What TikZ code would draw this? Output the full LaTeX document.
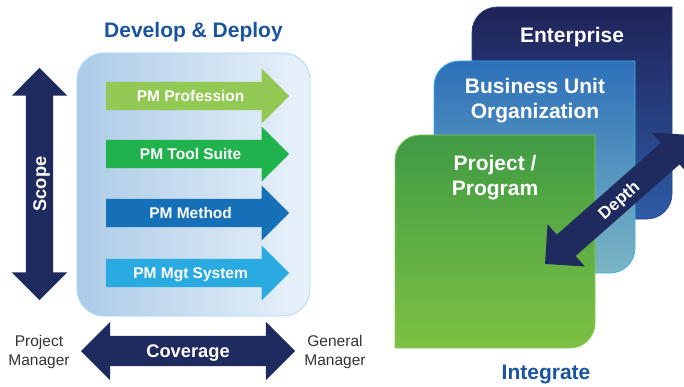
\documentclass[tikz,border=0pt]{standalone}
\usepackage{fontspec}
\setmainfont{Liberation Sans}
\usepackage{xcolor}
\usetikzlibrary{positioning, shapes.arrows}

\definecolor{navy}{RGB}{31,42,94}
\definecolor{headblue}{RGB}{27,84,158}
\definecolor{profgreen}{RGB}{146,200,84}
\definecolor{toolgreen}{RGB}{32,178,76}
\definecolor{methblue}{RGB}{21,112,184}
\definecolor{mgtblue}{RGB}{41,171,226}

\begin{document}
\begin{tikzpicture}[
  x=1pt, y=1pt,
  node distance=4pt,
  every node/.style={align=center, text=white, font=\bfseries},
  pmarrow/.style ={single arrow, draw=none, anchor=tail, minimum height=183, inner ysep=0, inner xsep=4,
                   single arrow head extend=13.5, text height=19.5, text depth=8.5,
                   font=\fontsize{15.5}{18}\selectfont\bfseries},
  bigarrow/.style={double arrow, draw=none, fill=navy, inner ysep=0, inner xsep=4, double arrow head extend=14,
                   font=\fontsize{18.3}{22}\selectfont\bfseries},
  heading/.style ={text=headblue, font=\fontsize{21}{25}\selectfont\bfseries},
  lvltext/.style ={font=\fontsize{21}{25}\selectfont\bfseries},
  mgr/.style     ={text=black!80, font=\fontsize{15.5}{18.5}\selectfont},
  panel/.style   ={rectangle, rounded corners=27, draw=blue!45!cyan!35, line width=0.8,
                   left color={rgb,255:red,172;green,203;blue,231}, right color={rgb,255:red,233;green,242;blue,250},
                   minimum width=233, minimum height=263},
  entbox/.style  ={top color={rgb,255:red,32;green,34;blue,88}, bottom color={rgb,255:red,45;green,92;blue,165},
                   draw={rgb,255:red,40;green,70;blue,140}, line width=0.6},
  bubox/.style   ={top color={rgb,255:red,45;green,112;blue,185}, bottom color={rgb,255:red,122;green,182;blue,196},
                   draw={rgb,255:red,55;green,180;blue,230}, line width=0.8},
  prjbox/.style  ={top color={rgb,255:red,64;green,155;blue,68}, bottom color={rgb,255:red,125;green,193;blue,67},
                   draw={rgb,255:red,140;green,200;blue,90}, line width=0.8}
]
\clip (0,0) rectangle (684,386);

% left: develop & deploy
\node[panel] (panel) at (193.5,201.5) {};
\node[heading] (dd) at (193.5,354) {Develop \& Deploy};

\node[pmarrow, fill=profgreen] (prof) at (106,290) {PM Profession};
\node[pmarrow, fill=toolgreen] (tool) at (106,232) {PM Tool Suite};
\node[pmarrow, fill=methblue]  (meth) at (106,173) {PM Method};
\node[pmarrow, fill=mgtblue]   (mgt)  at (106,113) {PM Mgt System};

\node[bigarrow, rotate=90, minimum height=232, text height=20, text depth=7] (scope) at (39.5,202) {Scope};
\node[bigarrow, minimum height=214, text height=21.5, text depth=8.5] (cov) at (188,35) {Coverage};

\node[mgr] (pm) at (39,34)  {Project\\Manager};
\node[mgr] (gm) at (335,34) {General\\Manager};

% right: integrate
\draw[entbox] (472,167) -- (472,354) arc[start angle=180, end angle=90, radius=25] -- (672,379)
  -- (672,192) arc[start angle=0, end angle=-90, radius=25] -- cycle;
\draw[bubox]  (434,113) -- (434,300) arc[start angle=180, end angle=90, radius=25] -- (635,325)
  -- (635,138) arc[start angle=0, end angle=-90, radius=25] -- cycle;
\draw[prjbox] (395,38)  -- (395,226) arc[start angle=180, end angle=90, radius=25] -- (595,251)
  -- (595,63)  arc[start angle=0, end angle=-90, radius=25] -- cycle;

\node[lvltext] (ent) at (572,349)   {Enterprise};
\node[lvltext] (bu)  at (535,285.5) {Business Unit\\Organization};
\node[lvltext] (prj) at (495,208.5) {Project /\\Program};

\node[bigarrow, rotate=41.4, minimum height=195, text height=20.5, text depth=7.5,
      font=\fontsize{17}{20}\selectfont\bfseries] (depth) at (618.2,186.5) {Depth};

\node[heading] (intg) at (546,12) {Integrate};

\end{tikzpicture}
\end{document}
